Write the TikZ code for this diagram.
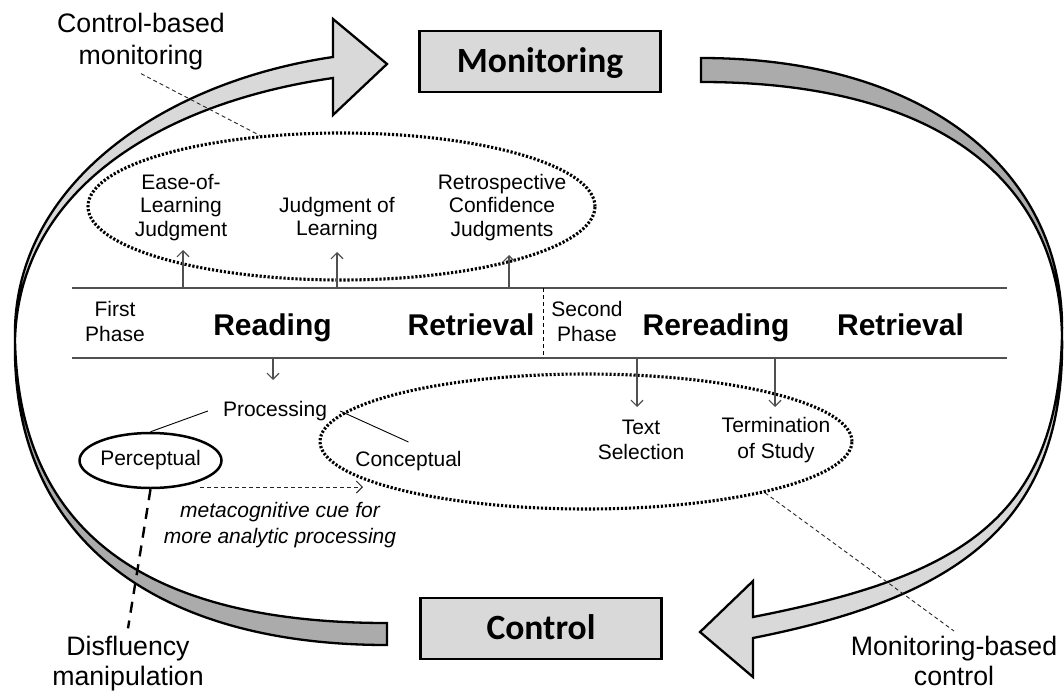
\documentclass[tikz,border=0pt]{standalone}
\usepackage{fontspec}
\setmainfont{Liberation Sans}
\newfontfamily\boxfont{Carlito}
\usetikzlibrary{arrows.meta,shapes.geometric}
\definecolor{boxgray}{HTML}{D9D9D9}
\definecolor{ribdark}{HTML}{ABABAB}
\definecolor{riblight}{HTML}{D9D9D9}
\definecolor{rulegray}{HTML}{505050}
\begin{document}
\begin{tikzpicture}[x=1pt,y=-1pt,
  lbl/.style={font=\fontsize{21}{23.5}\selectfont, align=center, inner sep=0pt},
  phase/.style={font=\fontsize{30}{34}\selectfont\bfseries, inner sep=0pt, text height=21.5pt, text depth=6.3pt},
  note/.style={font=\fontsize{26.7}{30}\selectfont, align=center, inner sep=0pt},
  cuetext/.style={font=\fontsize{21}{25.5}\selectfont\itshape, align=center, inner sep=0pt},
  stage/.style={draw=black, line width=2.4pt, fill=boxgray, minimum width=241pt, minimum height=61pt, inner sep=0pt, text height=22.5pt, text depth=0pt, font=\boxfont\bfseries\fontsize{35.5}{40}\selectfont},
  ribbon/.style={draw=black, line width=2.3pt, line join=miter},
  dotring/.style={ellipse, draw=black, line width=3.1pt, dash pattern=on 2.2pt off 1.8pt, inner sep=0pt},
  rule/.style={draw=rulegray, line width=1.3pt},
  arr/.style={draw=rulegray, line width=1.2pt, -{Straight Barb[length=6pt,width=12pt]}},
  leader/.style={draw=black!85, line width=0.9pt, dash pattern=on 4pt off 3pt},
]
\useasboundingbox (0,0) rectangle (1064,690);
\fill[white] (0,0) rectangle (1064,690);

% ---- twisted ribbon arrows of the loop ----
% left ribbon: tail (dark side) from Control, head (light side) into Monitoring
\filldraw[ribbon, fill=ribdark]
  (15,340) .. controls (11,540) and (157,645) .. (387,645) -- (387,623)
  .. controls (157,623) and (19,540) .. (15,340) -- cycle;
\filldraw[ribbon, fill=riblight]
  (15,340) .. controls (11,190) and (156,83) .. (333,57)
  -- (333,19) -- (387,64) -- (333,115) -- (333,78)
  .. controls (160,103) and (19,190) .. (15,340) -- cycle;
% right ribbon: tail (dark side) from Monitoring, head (light side) into Control
\filldraw[ribbon, fill=ribdark]
  (701,58) .. controls (931,58) and (1066,175) .. (1062,335)
  .. controls (1058,175) and (931,82) .. (701,82) -- cycle;
\filldraw[ribbon, fill=riblight]
  (1062,335) .. controls (1066,525) and (955,598) .. (753,638)
  -- (753,677) -- (700,632) -- (753,581) -- (753,617)
  .. controls (951,578) and (1058,525) .. (1062,335) -- cycle;

% ---- the two stages ----
\node[stage] (mon) at (540,61.5) {Monitoring};
\node[stage] (ctl) at (541,628.5) {Control};

% ---- dotted groupings ----
\node[dotring, minimum width=507pt, minimum height=147pt] (upell) at (341.5,206.5) {};
\node[dotring, minimum width=532pt, minimum height=135pt] (lowell) at (586,441.5) {};

% ---- phase band ----
\coordinate (bandTL) at (72,288);
\coordinate (bandTR) at (1007,288);
\coordinate (bandBL) at (72,358);
\coordinate (bandBR) at (1007,358);
\coordinate (sepT) at (543,288);
\coordinate (sepB) at (543,358);
\draw[rule] (bandTL) -- (bandTR);
\draw[rule] (bandBL) -- (bandBR);
\draw[draw=black, line width=0.9pt, dash pattern=on 4pt off 3pt] (sepT) -- (sepB);

\node[lbl, font=\fontsize{21}{25}\selectfont] (first) at (115,321) {First\\Phase};
\node[phase] (reading) at (272.5,327.5) {Reading};
\node[phase] (retr1) at (471,327.5) {Retrieval};
\node[lbl, font=\fontsize{21}{25}\selectfont] (second) at (587,321) {Second\\Phase};
\node[phase] (rereading) at (716,327.5) {Rereading};
\node[phase] (retr2) at (900.5,327.5) {Retrieval};

% ---- monitoring judgments ----
\node[lbl] (eol) at (181,207.5) {Ease-of-\\Learning\\Judgment};
\node[lbl] (jol) at (337,218.5) {Judgment of\\Learning};
\node[lbl] (rcj) at (502,207.5) {Retrospective\\Confidence\\Judgments};

\coordinate (u1) at (183,288);  \coordinate (u1t) at (183,250);
\coordinate (u2) at (337,288);  \coordinate (u2t) at (337,252);
\coordinate (u3) at (509,288);  \coordinate (u3t) at (509,255);
\draw[arr] (u1) -- (u1t);
\draw[arr] (u2) -- (u2t);
\draw[arr] (u3) -- (u3t);

% ---- control decisions ----
\node[lbl] (proc) at (275,411) {Processing};
\node[lbl, font=\fontsize{21}{25.5}\selectfont] (tsel) at (641,440) {Text\\Selection};
\node[lbl, font=\fontsize{21}{25.5}\selectfont] (term) at (776,440) {Termination\\of Study};

\coordinate (d1) at (273,358);  \coordinate (d1t) at (273,380);
\coordinate (d2) at (637,358);  \coordinate (d2t) at (637,407);
\coordinate (d3) at (775,358);  \coordinate (d3t) at (775,407);
\draw[arr] (d1) -- (d1t);
\draw[arr] (d2) -- (d2t);
\draw[arr] (d3) -- (d3t);

\node[lbl, ellipse, draw=black, line width=2.5pt, minimum width=135pt, minimum height=55pt] (perc) at (150.5,460.5) {Perceptual};
\node[lbl] (conc) at (408.5,461) {Conceptual};
\draw[black, line width=0.9pt] ([xshift=-15pt]proc.west) -- (perc.north);
\draw[black, line width=0.9pt] ([xshift=13pt]proc.east) -- ([yshift=9pt]conc.north);

\coordinate (cueS) at (200,487);
\coordinate (cueE) at (363,487);
\draw[draw=black!85, line width=0.9pt, dash pattern=on 4pt off 3pt, -{Straight Barb[length=6pt,width=12pt]}] (cueS) -- (cueE);
\node[cuetext] (cue) at (280,525) {metacognitive cue for\\more analytic processing};

% ---- outside annotations ----
\node[note, font=\fontsize{26.7}{32}\selectfont] (cbm) at (141,42) {Control-based\\monitoring};
\node[note] (disf) at (128,664) {Disfluency\\manipulation};
\node[note] (mbc) at (954,661) {Monitoring-based\\control};

\draw[leader] ([yshift=-3pt]cbm.south) -- (upell.139.5);
\draw[leader] (lowell.-16) -- ([yshift=5pt]mbc.north);
\draw[black, line width=2.4pt, dash pattern=on 11pt off 8pt] (perc.south) -- ([yshift=8pt]disf.north);
\end{tikzpicture}
\end{document}
